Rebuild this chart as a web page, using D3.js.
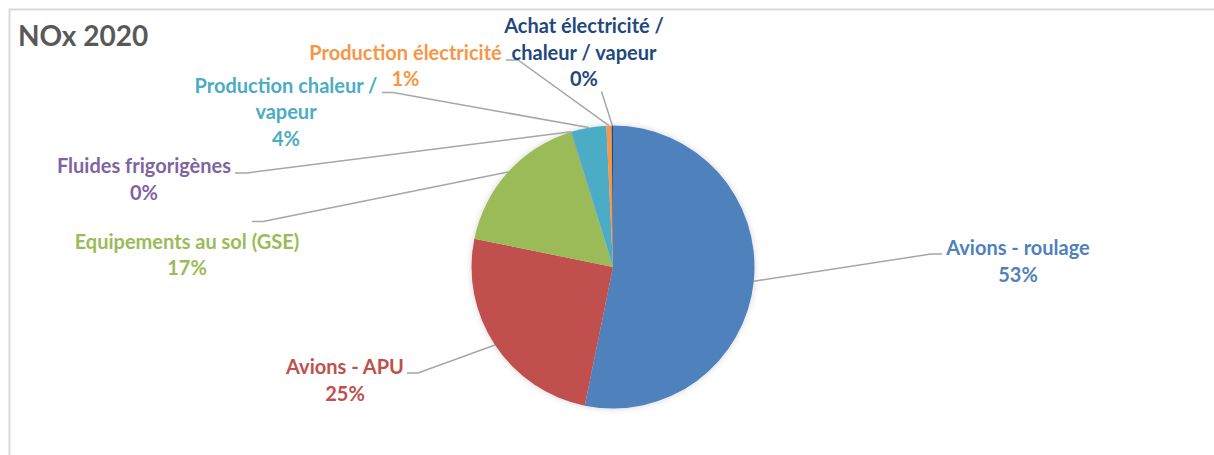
<!DOCTYPE html>
<html>
<head>
<meta charset="utf-8">
<script src="https://cdn.jsdelivr.net/npm/d3@7"></script>
<style>
  html, body { margin: 0; padding: 0; background: #fff; }
  svg { display: block; font-family: Lato, "Open Sans", sans-serif; font-weight: bold; }
</style>
</head>
<body>
<svg id="chart" width="1214" height="455"></svg>
<script>
  "use strict";

  // --- data ---
  var categories = [
    "Avions - roulage",
    "Avions - APU",
    "Equipements au sol (GSE)",
    "Fluides frigorigènes",
    "Production chaleur / vapeur",
    "Production électricité",
    "Achat électricité / chaleur / vapeur"
  ];
  var values = [53.2, 25.0, 17.0, 0.05, 4.0, 0.6, 0.15];
  var colors = ["#4F81BD", "#C0504D", "#9BBB59", "#8064A2", "#4BACC6", "#F79646", "#1F497D"];

  // label layout: centre x, first baseline, text lines, leader elbow / end
  var labelLayout = [
    { x: 1018, y: 255, lines: ["Avions - roulage"], elbow: [931, 254], end: [942, 254] },
    { x: 345, y: 374, lines: ["Avions - APU"], elbow: [418, 373], end: [407, 373] },
    { x: 187, y: 248.5, lines: ["Equipements au sol (GSE)"], elbow: [263, 221.5], end: [252, 221.5] },
    { x: 144, y: 173, lines: ["Fluides frigorigènes"], elbow: [247, 173], end: [235, 173] },
    { x: 286, y: 92.5, lines: ["Production chaleur /", "vapeur"], elbow: [393, 92.5], end: [382, 92.5] },
    { x: 405.5, y: 59.5, lines: ["Production électricité"], elbow: [518, 60], end: [506, 60] },
    { x: 584, y: 33, lines: ["Achat électricité /", "chaleur / vapeur"], elbow: [601.5, 91.5], end: null }
  ];

  var W = 1214, H = 455;
  var cx = 613, cy = 267, R = 141.5;
  var lineH = 26.5;

  var svg = d3.select("#chart");

  var defs = svg.append("defs");
  var f = defs.append("filter").attr("id", "shadow")
    .attr("x", "-20%").attr("y", "-20%").attr("width", "140%").attr("height", "140%");
  f.append("feDropShadow").attr("dx", 0).attr("dy", 0).attr("stdDeviation", 3)
    .attr("flood-color", "#000").attr("flood-opacity", 0.18);

  // chart area border (only top and left visible)
  svg.append("path")
    .attr("d", "M9.5," + H + " L9.5,9.5 L" + W + ",9.5")
    .attr("fill", "none")
    .attr("stroke", "#d9d9d9")
    .attr("stroke-width", 2);

  // title
  svg.append("text")
    .attr("x", 18).attr("y", 46)
    .attr("fill", "#595959")
    .style("font-size", "28px")
    .text("NOx 2020");

  var total = d3.sum(values);
  var data = categories.map(function (c, i) {
    return { key: c, value: values[i], color: colors[i], layout: labelLayout[i] };
  });

  var pie = d3.pie().sort(null).value(function (d) { return d.value; })
    .startAngle(0).endAngle(2 * Math.PI);
  var arc = d3.arc().innerRadius(0).outerRadius(R);
  var arcs = pie(data);

  var g = svg.append("g").attr("transform", "translate(" + cx + "," + cy + ")");

  g.append("g").attr("filter", "url(#shadow)")
    .selectAll("path")
    .data(arcs)
    .enter()
    .append("path")
    .attr("d", arc)
    .attr("fill", function (d) { return d.data.color; });

  // leader lines
  svg.append("g").selectAll("polyline")
    .data(arcs)
    .enter()
    .append("polyline")
    .attr("points", function (d) {
      var a = (d.startAngle + d.endAngle) / 2;
      var p0 = [cx + R * Math.sin(a), cy - R * Math.cos(a)];
      var pts = [p0, d.data.layout.elbow];
      if (d.data.layout.end) pts.push(d.data.layout.end);
      return pts.map(function (p) { return p.join(","); }).join(" ");
    })
    .attr("fill", "none")
    .attr("stroke", "#a6a6a6")
    .attr("stroke-width", 1.5);

  // labels
  var labels = svg.append("g").selectAll("text")
    .data(arcs)
    .enter()
    .append("text")
    .attr("text-anchor", "middle")
    .attr("fill", function (d) { return d.data.color; })
    .style("font-size", "20px");

  labels.each(function (d) {
    var t = d3.select(this);
    var lines = d.data.layout.lines.concat([Math.round(d.value / total * 100) + "%"]);
    lines.forEach(function (s, i) {
      t.append("tspan")
        .attr("x", d.data.layout.x)
        .attr("y", d.data.layout.y + i * lineH)
        .text(s);
    });
  });
</script>
</body>
</html>
